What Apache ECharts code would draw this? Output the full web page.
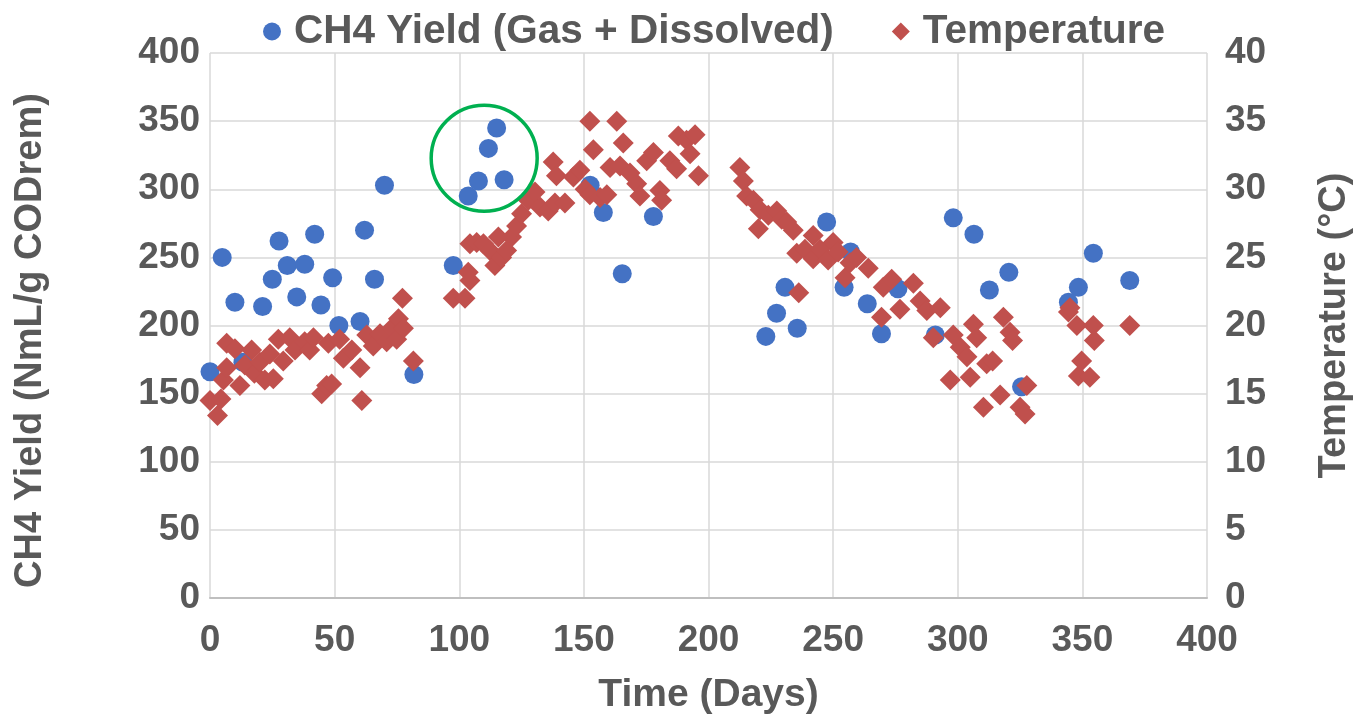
<!DOCTYPE html>
<html>
<head>
<meta charset="utf-8">
<title>CH4 Yield and Temperature</title>
<script src="https://cdn.jsdelivr.net/npm/echarts@6/dist/echarts.min.js"></script>
<style>
	html, body { margin: 0; padding: 0; background: #fff; }
	#show-chart { width: 1358px; height: 724px; }
</style>
</head>
<body>
<div id="show-chart"></div>
<script>
// CH4 yield (gas + dissolved), NmL/g CODrem
var ch4Days = [0, 4.9, 10, 13.2, 21.1, 25, 27.7, 31, 34.8, 38, 42, 44.5, 49.2, 51.7, 60.2, 62, 66, 70, 81.8,
	97.6, 103.6, 107.7, 111.7, 115, 118, 152.5, 157.8, 165.4, 177.9,
	223, 227.3, 230.7, 235.6, 247.4, 254.4, 257, 263.7, 269.4, 276, 291, 298.2, 306.5, 312.7, 320.5, 325.6,
	344.4, 348.4, 354.4, 369];
var ch4Yield = [166, 250, 217, 173, 214, 234, 262, 244, 221, 245, 267, 215, 235, 200, 203, 270, 234, 303, 164,
	244, 295, 306, 330, 345, 307, 303, 283, 238, 280,
	192, 209, 228, 198, 276, 228, 254, 216, 194, 227, 193, 279, 267, 226, 239, 155,
	217, 228, 253, 233];

// temperature, °C
var tempDays = [0, 3, 4.4, 5.4, 6.7, 6.7, 10, 12, 14, 16.7, 17.8, 20, 22, 24, 25.4, 27.4, 29.4, 32, 34.1, 38,
	40, 41.5, 44.8, 46.8, 48.8, 47.5, 52, 53.5, 56.9, 60.2, 60.9, 62.9, 65.5, 68.2, 70.9, 72.9, 74.9, 75.6, 77.6, 77.2, 81.6,
	97.6, 102.3, 103.6, 104.3, 104.3, 107, 109.7, 112.3, 114.3, 115.7, 117, 119, 121, 123, 125, 127.7, 130.4, 132.4,
	135.7, 137.7, 138.4, 139, 142.4, 145.8, 148.4, 150.5, 152.4, 152.4, 153.8, 156.5, 159.2, 160.5, 163.2, 164.5,
	165.8, 168.5, 171.2, 172.5, 175.2, 177.9, 180.5, 181.2, 184.5, 187.2, 187.9, 191.2, 192.6, 194.6, 196,
	212.6, 214, 215.3, 218, 220, 220.7, 224, 227.4, 229.4, 231.4, 234, 235.4, 236.2, 238.7, 242, 242, 244.7, 248,
	250, 252, 254.8, 256.8, 259.4, 264.1, 269.4, 270.1, 273.5, 276.8, 282.2, 284.9, 287.6, 290.2, 293, 297, 298.2,
	301, 303.7, 305, 306.3, 307.6, 310.3, 311.6, 314, 317, 318.3, 321, 322, 325, 327.7, 327,
	344.4, 345, 347.8, 348.4, 349.7, 353, 354.4, 354.8, 369];
var tempC = [14.5, 13.4, 14.6, 16, 16.9, 18.7, 18.3, 15.6, 17.1, 18.2, 16.5, 17.3, 16, 17.9, 16.1, 19, 17.4, 19.1, 18.2, 18.8,
	18.2, 19.1, 15, 15.6, 15.7, 18.7, 19, 17.6, 18.2, 16.9, 14.5, 19.3, 18.5, 19.4, 18.8, 19.8, 19, 20.5, 19.8, 22, 17.4,
	22, 22, 23.9, 23.3, 26, 26.1, 26, 25.5, 24.4, 26.5, 25, 25.5, 26.5, 27.3, 28.2, 29.2, 29.8, 28.7,
	28.4, 32, 29, 31, 29, 30.9, 31.4, 30, 29.6, 35, 32.9, 29.4, 29.6, 31.6, 35, 31.7,
	33.4, 31.2, 30.4, 29.5, 32.1, 32.7, 29.9, 29.2, 32.1, 31.5, 33.9, 33.6, 32.6, 34, 31,
	31.6, 30.6, 29.5, 29.2, 27.1, 28.5, 28.1, 28.4, 27.8, 27.6, 27, 25.3, 22.4, 25.6, 26.6, 24.9, 25.6, 24.8,
	26.1, 25.4, 23.5, 24.6, 25, 24.2, 20.6, 22.8, 23.4, 21.2, 23.1, 21.8, 21.1, 19.1, 21.3, 16, 19.3,
	18.4, 17.7, 16.2, 20.1, 19.1, 14, 17.2, 17.4, 14.9, 20.6, 19.5, 18.9, 14, 15.6, 13.5,
	21, 21.3, 20, 16.3, 17.4, 16.2, 20, 18.9, 20];

// highlighted group (days, yield)
var circleCenter = [110, 322];

var xTicks = { min: 0, max: 400, interval: 50 };
var leftTicks = { min: 0, max: 400, interval: 50 };
var rightTicks = { min: 0, max: 40, interval: 5 };

var Chart = {
	init : function() {
		var chart = echarts.init(document.getElementById('show-chart'));
		chart.setOption(Chart.buildOption());
		Chart.drawCircle(chart);
	},

	pairs : function(xs, ys) {
		var out = [];
		for (var i = 0; i < xs.length; i++) {
			out.push([xs[i], ys[i]]);
		}
		return out;
	},

	buildOption : function() {
		var gray = '#595959';
		var font = 'Liberation Sans, Arial, sans-serif';
		var grid = { color: '#D9D9D9', width: 1.5 };
		return {
			animation : false,
			textStyle : { fontFamily : font },
			legend : {
				top : 6,
				left : 258,
				itemGap : 58,
				itemWidth : 18,
				itemHeight : 18,
				textStyle : { color : gray, fontSize : 40.5, fontWeight : 'bold', padding : [0, 0, 0, 8] },
				data : [
					{ name : 'CH4 Yield (Gas + Dissolved)', icon : 'circle' },
					{ name : 'Temperature', icon : 'diamond' }
				]
			},
			grid : { left : 210, right : 151, top : 53, bottom : 126, outerBoundsMode : 'none', containLabel : false },
			xAxis : {
				type : 'value',
				min : xTicks.min, max : xTicks.max, interval : xTicks.interval,
				name : 'Time (Days)',
				nameLocation : 'middle',
				nameGap : 78,
				nameTextStyle : { color : gray, fontSize : 39, fontWeight : 'bold' },
				axisLine : { lineStyle : { color : '#BFBFBF', width : 2 } },
				axisTick : { show : false },
				axisLabel : { color : gray, fontSize : 37, fontWeight : 'bold', margin : 24 },
				splitLine : { show : true, lineStyle : grid }
			},
			yAxis : [ {
				type : 'value',
				min : leftTicks.min, max : leftTicks.max, interval : leftTicks.interval,
				name : 'CH4 Yield (NmL/g CODrem)',
				nameLocation : 'middle',
				nameGap : 160,
				nameTextStyle : { color : gray, fontSize : 38, fontWeight : 'bold', padding : [0, 30, 0, 0] },
				axisLine : { show : false },
				axisTick : { show : false },
				axisLabel : { color : gray, fontSize : 37, fontWeight : 'bold', margin : 10 },
				splitLine : { show : true, lineStyle : grid }
			}, {
				type : 'value',
				min : rightTicks.min, max : rightTicks.max, interval : rightTicks.interval,
				name : 'Temperature (°C)',
				nameLocation : 'middle',
				nameGap : 109,
				nameTextStyle : { color : gray, fontSize : 38, fontWeight : 'bold' },
				axisLine : { show : false },
				axisTick : { show : false },
				axisLabel : { color : gray, fontSize : 37, fontWeight : 'bold', margin : 18 },
				splitLine : { show : false }
			} ],
			series : [ {
				name : 'CH4 Yield (Gas + Dissolved)',
				type : 'scatter',
				symbol : 'circle',
				symbolSize : 19,
				itemStyle : { color : '#4472C4', opacity : 1 },
				data : Chart.pairs(ch4Days, ch4Yield)
			}, {
				name : 'Temperature',
				type : 'scatter',
				yAxisIndex : 1,
				symbol : 'diamond',
				symbolSize : 21,
				itemStyle : { color : '#C0504D', opacity : 1 },
				data : Chart.pairs(tempDays, tempC)
			} ]
		};
	},

	// green ring around the high-yield group, placed through the axes
	drawCircle : function(chart) {
		var p = chart.convertToPixel({ gridIndex : 0 }, circleCenter);
		chart.setOption({
			graphic : [ {
				type : 'circle',
				shape : { cx : p[0], cy : p[1] - 1, r : 53 },
				style : { fill : 'none', stroke : '#00B050', lineWidth : 3.5 },
				z : 100
			} ]
		});
	}
};

Chart.init();
</script>
</body>
</html>
